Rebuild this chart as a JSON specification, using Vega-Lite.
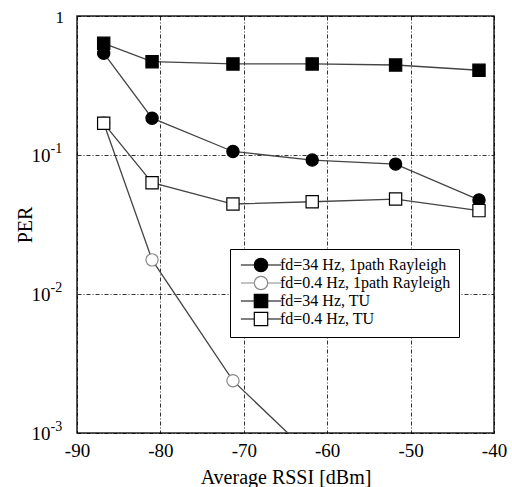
{
  "$schema": "https://vega.github.io/schema/vega-lite/v6.json",
  "width": 417,
  "height": 417,
  "autosize": {"type": "none"},
  "padding": {"left": 77, "top": 16, "right": 18, "bottom": 54},
  "background": "white",
  "config": {
    "view": {"stroke": "#222", "strokeWidth": 1.5},
    "font": "Liberation Serif",
    "axis": {
      "labelFont": "Liberation Serif",
      "titleFont": "Liberation Serif",
      "labelColor": "black",
      "titleColor": "black",
      "labelFontSize": 19,
      "titleFontSize": 20,
      "titleFontWeight": "normal",
      "ticks": false,
      "domain": false,
      "grid": true,
      "gridColor": "black",
      "gridWidth": 0.9,
      "gridDash": [4, 2, 1, 2],
      "gridOpacity": 0.9
    }
  },
  "resolve": {
    "axis": {"y": "independent"},
    "scale": {"shape": "independent", "fill": "independent", "stroke": "independent"}
  },
  "data": {
    "values": [
      {"rssi": -86.8, "per": 0.54, "series": "fd=34 Hz, 1path Rayleigh"},
      {"rssi": -81.0, "per": 0.184, "series": "fd=34 Hz, 1path Rayleigh"},
      {"rssi": -71.3, "per": 0.106, "series": "fd=34 Hz, 1path Rayleigh"},
      {"rssi": -61.8, "per": 0.092, "series": "fd=34 Hz, 1path Rayleigh"},
      {"rssi": -51.8, "per": 0.086, "series": "fd=34 Hz, 1path Rayleigh"},
      {"rssi": -41.8, "per": 0.0475, "series": "fd=34 Hz, 1path Rayleigh"},
      {"rssi": -86.8, "per": 0.17, "series": "fd=0.4 Hz, 1path Rayleigh"},
      {"rssi": -81.0, "per": 0.0176, "series": "fd=0.4 Hz, 1path Rayleigh"},
      {"rssi": -71.3, "per": 0.00238, "series": "fd=0.4 Hz, 1path Rayleigh"},
      {"rssi": -61.8, "per": 0.00068, "series": "fd=0.4 Hz, 1path Rayleigh"},
      {"rssi": -86.8, "per": 0.636, "series": "fd=34 Hz, TU"},
      {"rssi": -81.0, "per": 0.469, "series": "fd=34 Hz, TU"},
      {"rssi": -71.3, "per": 0.452, "series": "fd=34 Hz, TU"},
      {"rssi": -61.8, "per": 0.452, "series": "fd=34 Hz, TU"},
      {"rssi": -51.8, "per": 0.444, "series": "fd=34 Hz, TU"},
      {"rssi": -41.8, "per": 0.407, "series": "fd=34 Hz, TU"},
      {"rssi": -86.8, "per": 0.169, "series": "fd=0.4 Hz, TU"},
      {"rssi": -81.0, "per": 0.0632, "series": "fd=0.4 Hz, TU"},
      {"rssi": -71.3, "per": 0.0444, "series": "fd=0.4 Hz, TU"},
      {"rssi": -61.8, "per": 0.0461, "series": "fd=0.4 Hz, TU"},
      {"rssi": -51.8, "per": 0.0482, "series": "fd=0.4 Hz, TU"},
      {"rssi": -41.8, "per": 0.0398, "series": "fd=0.4 Hz, TU"}
    ]
  },
  "encoding": {
    "x": {
      "field": "rssi",
      "type": "quantitative",
      "scale": {"domain": [-90, -40], "nice": false, "zero": false},
      "axis": {
        "title": "Average RSSI [dBm]",
        "values": [-90, -80, -70, -60, -50, -40],
        "labelExpr": "'' + datum.value",
        "labelPadding": 8,
        "titlePadding": 7,
        "labelFlush": false
      }
    }
  },
  "layer": [
    {
      "mark": {"type": "line", "clip": true, "color": "#444", "strokeWidth": 1.3},
      "encoding": {
        "detail": {"field": "series"},
        "y": {
          "field": "per",
          "type": "quantitative",
          "scale": {"type": "log", "domain": [0.001, 1], "nice": false},
          "axis": {
            "orient": "left",
            "title": "PER",
            "values": [0.001, 0.01, 0.1, 1],
            "labelExpr": "datum.value > 0.5 ? '' : '10'",
            "labelPadding": 27,
            "titlePadding": -4,
            "labelFlush": false
          }
        }
      }
    },
    {
      "mark": {"type": "point", "clip": true, "filled": true, "size": 150, "strokeWidth": 1.2, "opacity": 1},
      "encoding": {
        "y": {
          "field": "per",
          "type": "quantitative",
          "scale": {"type": "log", "domain": [0.001, 1], "nice": false},
          "axis": {
            "orient": "left",
            "title": null,
            "grid": false,
            "values": [0.001, 0.01, 0.1, 1],
            "labelExpr": "datum.value > 0.5 ? '1' : datum.value > 0.05 ? '-1' : datum.value > 0.005 ? '-2' : '-3'",
            "labelAlign": "left",
            "labelFlush": false,
            "labelPadding": {"condition": {"test": "datum.value > 0.5", "value": 22}, "value": 27},
            "labelFontSize": {"condition": {"test": "datum.value > 0.5", "value": 17}, "value": 14},
            "labelOffset": {"condition": {"test": "datum.value > 0.5", "value": 1}, "value": -7}
          }
        },
        "shape": {
          "field": "series",
          "type": "nominal",
          "scale": {
            "domain": ["fd=34 Hz, 1path Rayleigh", "fd=0.4 Hz, 1path Rayleigh", "fd=34 Hz, TU", "fd=0.4 Hz, TU"],
            "range": ["circle", "circle", "square", "square"]
          },
          "legend": null
        },
        "fill": {
          "field": "series",
          "type": "nominal",
          "scale": {
            "domain": ["fd=34 Hz, 1path Rayleigh", "fd=0.4 Hz, 1path Rayleigh", "fd=34 Hz, TU", "fd=0.4 Hz, TU"],
            "range": ["black", "white", "black", "white"]
          },
          "legend": null
        },
        "stroke": {
          "field": "series",
          "type": "nominal",
          "scale": {
            "domain": ["fd=34 Hz, 1path Rayleigh", "fd=0.4 Hz, 1path Rayleigh", "fd=34 Hz, TU", "fd=0.4 Hz, TU"],
            "range": ["black", "#888888", "black", "black"]
          },
          "legend": null
        }
      }
    },
    {
      "transform": [{"filter": "datum.per < 0.001"}],
      "mark": {"type": "point", "clip": true, "filled": true, "size": 180, "strokeWidth": 1.2, "opacity": 1},
      "encoding": {
        "y": {
          "field": "per",
          "type": "quantitative",
          "scale": {"type": "log", "domain": [0.001, 1], "nice": false},
          "axis": null
        },
        "shape": {
          "field": "series",
          "type": "nominal",
          "scale": {
            "domain": ["fd=34 Hz, 1path Rayleigh", "fd=0.4 Hz, 1path Rayleigh", "fd=34 Hz, TU", "fd=0.4 Hz, TU"],
            "range": [
              "M-3,0H-1M1,0H3M1,0A1,1,0,1,1,-1,0A1,1,0,1,1,1,0Z",
              "M-3,0H-1M1,0H3M1,0A1,1,0,1,1,-1,0A1,1,0,1,1,1,0Z",
              "M-3,0H-1M1,0H3M-1,-1H1V1H-1Z",
              "M-3,0H-1M1,0H3M-1,-1H1V1H-1Z"
            ]
          },
          "legend": {
            "title": null, "orient": "none", "legendX": 153, "legendY": 233,
            "padding": 8, "strokeColor": "black", "fillColor": "white",
            "labelFont": "Liberation Serif", "labelFontSize": 16, "labelColor": "black", "labelLimit": 400,
            "labelExpr": "datum.label + '\u00a0\u00a0\u00a0\u00a0'",
            "symbolSize": 180, "symbolOffset": 15, "labelOffset": 11, "rowPadding": -8, "symbolStrokeWidth": 1.2
          }
        },
        "fill": {
          "field": "series",
          "type": "nominal",
          "scale": {
            "domain": ["fd=34 Hz, 1path Rayleigh", "fd=0.4 Hz, 1path Rayleigh", "fd=34 Hz, TU", "fd=0.4 Hz, TU"],
            "range": ["black", "white", "black", "white"]
          },
          "legend": {
            "title": null, "orient": "none", "legendX": 153, "legendY": 233,
            "padding": 8, "strokeColor": "black", "fillColor": "white",
            "labelFont": "Liberation Serif", "labelFontSize": 16, "labelColor": "black", "labelLimit": 400,
            "labelExpr": "datum.label + '\u00a0\u00a0\u00a0\u00a0'",
            "symbolSize": 180, "symbolOffset": 15, "labelOffset": 11, "rowPadding": -8, "symbolStrokeWidth": 1.2
          }
        },
        "stroke": {
          "field": "series",
          "type": "nominal",
          "scale": {
            "domain": ["fd=34 Hz, 1path Rayleigh", "fd=0.4 Hz, 1path Rayleigh", "fd=34 Hz, TU", "fd=0.4 Hz, TU"],
            "range": ["black", "#888888", "black", "black"]
          },
          "legend": {
            "title": null, "orient": "none", "legendX": 153, "legendY": 233,
            "padding": 8, "strokeColor": "black", "fillColor": "white",
            "labelFont": "Liberation Serif", "labelFontSize": 16, "labelColor": "black", "labelLimit": 400,
            "labelExpr": "datum.label + '\u00a0\u00a0\u00a0\u00a0'",
            "symbolSize": 180, "symbolOffset": 15, "labelOffset": 11, "rowPadding": -8, "symbolStrokeWidth": 1.2
          }
        }
      }
    }
  ]
}
